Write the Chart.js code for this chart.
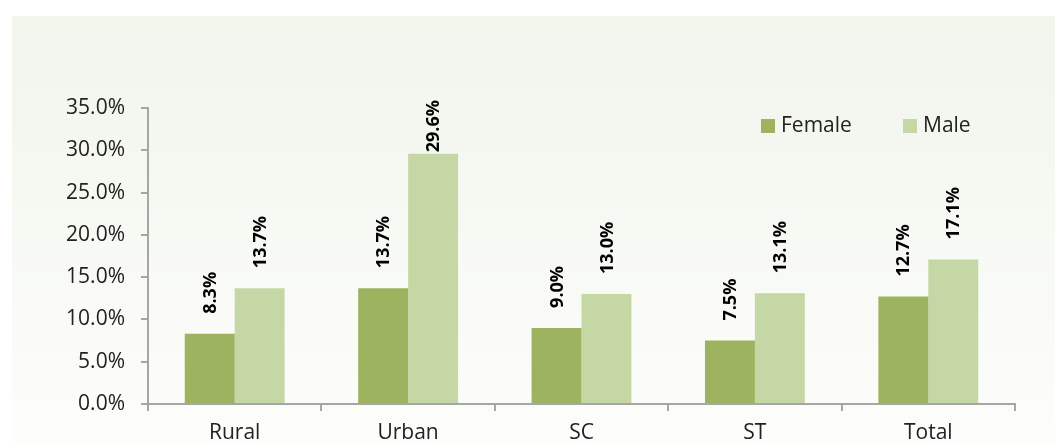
<!DOCTYPE html>
<html lang="en">
  <head>
    <meta charset="UTF-8" />
    <title>Female / Male</title>
    <style>
      html, body { margin: 0; padding: 0; background: #ffffff; }
      #wrap { width: 1055px; height: 443px; position: relative; }
    </style>
  </head>
  <body>
    <div id="wrap">
      <canvas id="bar"></canvas>
    </div>
    <script src="https://cdn.jsdelivr.net/npm/chart.js"></script>
    <script>
      const categories = ["Rural", "Urban", "SC", "ST", "Total"];
      const femaleValues = [8.3, 13.7, 9.0, 7.5, 12.7];
      const maleValues = [13.7, 29.6, 13.0, 13.1, 17.1];
      const yTicks = [0, 5, 10, 15, 20, 25, 30, 35];

      const femaleColor = "#9db35f";
      const maleColor = "#c6d7a6";
      const axisColor = "#a6a6a6";
      const font = "'Open Sans', 'Noto Sans', sans-serif";

      // panel background with a soft green gradient
      const panelBg = {
        id: "panelBg",
        beforeDraw: (chart) => {
          const ctx = chart.ctx;
          ctx.save();
          ctx.fillStyle = "#ffffff";
          ctx.fillRect(0, 0, chart.width, chart.height);
          const grad = ctx.createLinearGradient(0, 16, 0, chart.height);
          grad.addColorStop(0, "#f1f5ec");
          grad.addColorStop(1, "#fdfdfb");
          ctx.fillStyle = grad;
          ctx.fillRect(12, 16, chart.width - 12, chart.height - 16);
          ctx.restore();
        },
      };

      // rotated value labels above each bar
      const valueLabels = {
        id: "valueLabels",
        afterDatasetsDraw: (chart) => {
          const ctx = chart.ctx;
          ctx.save();
          ctx.font = "bold 18px " + font;
          ctx.fillStyle = "#000000";
          ctx.textAlign = "left";
          ctx.textBaseline = "middle";
          chart.data.datasets.forEach((ds, i) => {
            chart.getDatasetMeta(i).data.forEach((bar, j) => {
              const text = ds.data[j].toFixed(1) + "%";
              const w = ctx.measureText(text).width;
              let y = bar.y - 20;
              if (y - w < 100) y = 100 + w;
              ctx.save();
              ctx.translate(bar.x + 1, y);
              ctx.rotate(-Math.PI / 2);
              ctx.fillText(text, 0, 0);
              ctx.restore();
            });
          });
          ctx.restore();
        },
      };

      // legend drawn inside the plot, top right
      const innerLegend = {
        id: "innerLegend",
        afterDraw: (chart) => {
          const ctx = chart.ctx;
          ctx.save();
          ctx.font = "21px " + font;
          ctx.textBaseline = "middle";
          ctx.textAlign = "left";
          const xs = [761, 903];
          chart.data.datasets.forEach((ds, i) => {
            ctx.fillStyle = ds.backgroundColor;
            ctx.fillRect(xs[i], 119, 14, 14);
            ctx.fillStyle = "#222222";
            ctx.fillText(ds.label, xs[i] + 20, 126);
          });
          ctx.restore();
        },
      };

      const barConfig = {
        type: "bar",
        data: {
          labels: categories,
          datasets: [
            {
              label: "Female",
              data: femaleValues,
              backgroundColor: femaleColor,
              borderWidth: 0,
              barPercentage: 1.0,
              categoryPercentage: 0.576,
            },
            {
              label: "Male",
              data: maleValues,
              backgroundColor: maleColor,
              borderWidth: 0,
              barPercentage: 1.0,
              categoryPercentage: 0.576,
            },
          ],
        },
        options: {
          responsive: true,
          maintainAspectRatio: false,
          animation: false,
          layout: { padding: { left: 0, top: 108, right: 40, bottom: 0 } },
          plugins: {
            legend: { display: false },
            tooltip: { enabled: false },
          },
          scales: {
            x: {
              afterFit: (scale) => {
                scale.height = 39;
              },
              grid: {
                offset: true,
                drawOnChartArea: false,
                drawTicks: true,
                tickLength: 7,
                color: axisColor,
                lineWidth: 2,
              },
              border: { display: true, color: axisColor, width: 2 },
              ticks: {
                color: "#222222",
                padding: 9,
                font: { family: font, size: 21 },
              },
            },
            y: {
              min: 0,
              max: 35,
              afterFit: (scale) => {
                scale.width = 148;
              },
              afterBuildTicks: (scale) => {
                scale.ticks = yTicks.map((v) => ({ value: v }));
              },
              grid: {
                drawOnChartArea: false,
                drawTicks: true,
                tickLength: 7,
                color: axisColor,
                lineWidth: 2,
              },
              border: { display: true, color: axisColor, width: 2 },
              ticks: {
                color: "#222222",
                padding: 16,
                font: { family: font, size: 21 },
                callback: (v) => v.toFixed(1) + "%",
              },
            },
          },
        },
        plugins: [panelBg, valueLabels, innerLegend],
      };

      const barCtx = document.getElementById("bar");
      const barChart = new Chart(barCtx, barConfig);
    </script>
  </body>
</html>
